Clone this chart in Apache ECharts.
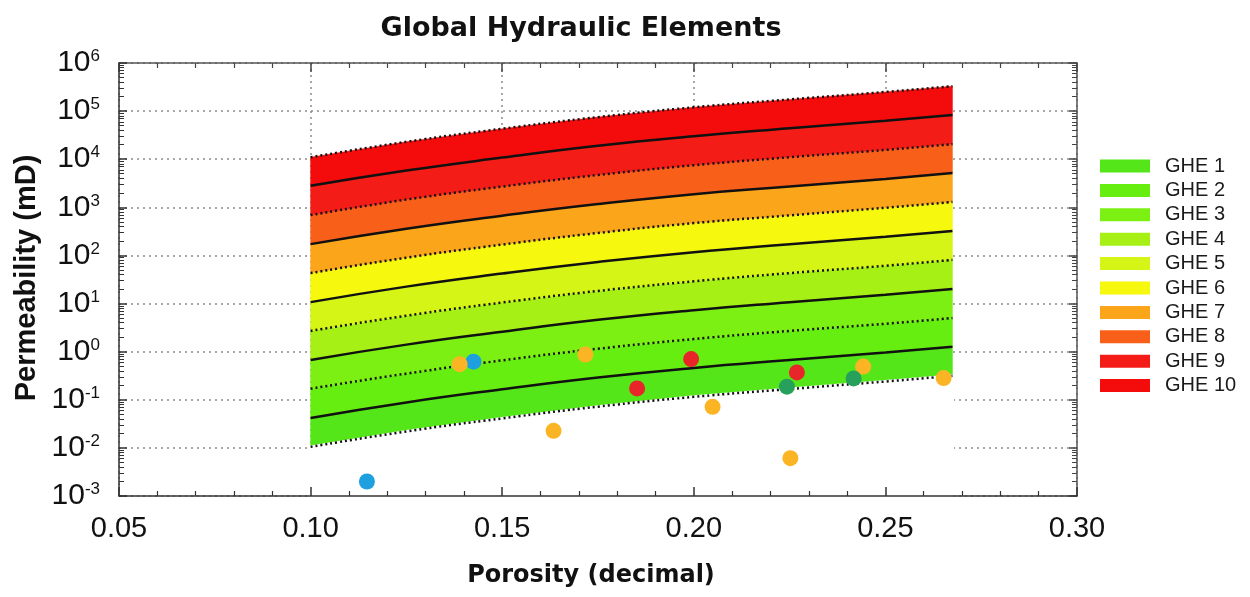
<!DOCTYPE html>
<html>
<head>
<meta charset="utf-8">
<script src="https://cdn.jsdelivr.net/npm/echarts@6/dist/echarts.min.js"></script>
<style>
  html, body { margin: 0; padding: 0; background: #fff; }
  #box1 { width: 1250px; height: 597px; }
</style>
</head>
<body>
<div id="box1"></div>
<script>
/* GHE chart */
var porosity = [0.10, 0.125, 0.15, 0.175, 0.20, 0.225, 0.25, 0.2675];

// boundary curves, bottom (bound0) to top (bound10)
var bound0  = [0.0105, 0.022, 0.041, 0.072, 0.115, 0.167, 0.24, 0.315];
var bound1  = [0.042, 0.088, 0.165, 0.29, 0.46, 0.67, 0.96, 1.26];
var bound2  = [0.17, 0.35, 0.66, 1.15, 1.83, 2.7, 3.8, 5.0];
var bound3  = [0.67, 1.4, 2.6, 4.6, 7.3, 10.7, 15.3, 20];
var bound4  = [2.7, 5.6, 10.5, 18.3, 29, 43, 61, 81];
var bound5  = [10.7, 22.5, 42, 73, 117, 171, 245, 322];
var bound6  = [43, 90, 168, 293, 470, 680, 980, 1290];
var bound7  = [172, 360, 670, 1170, 1880, 2700, 3900, 5200];
var bound8  = [690, 1450, 2700, 4700, 7500, 11000, 15600, 20600];
var bound9  = [2800, 5800, 10800, 19000, 30000, 44000, 63000, 83000];
var bound10 = [11000, 23000, 43000, 75000, 120000, 175000, 250000, 330000];

var gheNames = ['GHE 1', 'GHE 2', 'GHE 3', 'GHE 4', 'GHE 5', 'GHE 6', 'GHE 7', 'GHE 8', 'GHE 9', 'GHE 10'];
var gheColors = ['#55e619', '#66ee11', '#7df013', '#a6f016', '#d4f515', '#f6f80e', '#fba61a', '#f8601a', '#f31c17', '#f40c0c'];

// sample points
var blueX = [0.1147, 0.1425];
var blueY = [0.0020, 0.62];
var orangeX = [0.1389, 0.1717, 0.1634, 0.2049, 0.2252, 0.2442, 0.2652];
var orangeY = [0.55, 0.87, 0.0226, 0.0715, 0.0061, 0.49, 0.283];
var redX = [0.1852, 0.1993, 0.2269];
var redY = [0.172, 0.70, 0.37];
var greenX = [0.2243, 0.2417];
var greenY = [0.187, 0.278];

var xTicks = ['0.05', '0.10', '0.15', '0.20', '0.25', '0.30'];
var yMin = 0.001, yMax = 1000000;

var bounds = [bound0, bound1, bound2, bound3, bound4, bound5, bound6, bound7, bound8, bound9, bound10];

function pairs(xs, ys) {
    return xs.map(function (x, i) { return [x, ys[i]]; });
}

// polygon between two boundary curves
function bandRenderer(lower, upper, color) {
    return function (params, api) {
        var pts = [];
        for (var i = 0; i < porosity.length; i++) pts.push(api.coord([porosity[i], upper[i]]));
        for (var j = porosity.length - 1; j >= 0; j--) pts.push(api.coord([porosity[j], lower[j]]));
        return { type: 'polygon', shape: { points: pts }, style: { fill: color, stroke: color, lineWidth: 0.5 } };
    };
}

var dom = document.getElementById('box1');
var myChart = echarts.init(dom, null, { renderer: 'canvas' });

var series = [];
for (var k = 1; k <= 10; k++) {
    series.push({
        name: gheNames[k - 1],
        type: 'custom',
        silent: true,
        itemStyle: { color: gheColors[k - 1] },
        renderItem: bandRenderer(bounds[k - 1], bounds[k], gheColors[k - 1]),
        data: [[porosity[0], bounds[k][0]]],
        z: 2
    });
}
// white under the lowest band (hides grid there)
var floor = porosity.map(function () { return yMin; });
series.push({
    name: 'floor',
    type: 'custom',
    silent: true,
    renderItem: function (params, api) {
        var el = bandRenderer(floor, bound0, '#fff')(params, api);
        el.style.lineWidth = 3;
        return el;
    },
    data: [[porosity[0], bound0[0]]],
    z: 2
});
// boundary lines: solid for odd, dotted for even
bounds.forEach(function (b, k) {
    series.push({
        name: 'b' + k,
        type: 'line',
        data: pairs(porosity, b),
        smooth: true,
        symbol: 'none',
        silent: true,
        lineStyle: { color: '#111', width: 2.5, type: (k % 2 === 0) ? [2, 3] : 'solid' },
        z: 3
    });
});

var pointSets = [
    { x: blueX, y: blueY, c: '#1e9fe0' },
    { x: orangeX, y: orangeY, c: '#fbb524' },
    { x: redX, y: redY, c: '#e8262a' },
    { x: greenX, y: greenY, c: '#27a05c' }
];
pointSets.forEach(function (p, i) {
    series.push({
        name: 'pts' + i,
        type: 'scatter',
        data: pairs(p.x, p.y),
        symbolSize: 16,
        itemStyle: { color: p.c, opacity: 1 },
        z: 6
    });
});

var labelFont = 'Liberation Sans';
var gridDots = { show: true, lineStyle: { color: '#8a8a8a', width: 1.5, type: [2, 4] } };

option = {
    backgroundColor: '#fff',
    animation: false,
    grid: { left: 119, right: 173, top: 63, bottom: 101 },
    legend: {
        orient: 'vertical',
        left: 1100,
        top: 156,
        padding: 0,
        icon: 'rect',
        itemWidth: 50,
        itemHeight: 13,
        itemGap: 4.4,
        selectedMode: false,
        textStyle: { fontFamily: labelFont, fontSize: 20, color: '#1a1a1a', padding: [0, 0, 0, 10] },
        data: gheNames.map(function (n, i) {
            return { name: n, itemStyle: { color: gheColors[i], borderWidth: 0 } };
        })
    },
    xAxis: [
        {
            type: 'value', min: 0.05, max: 0.30, interval: 0.05,
            position: 'bottom', z: 10,
            axisLine: { lineStyle: { color: '#333', width: 1.5 } },
            axisTick: { inside: true, length: 9, lineStyle: { color: '#333', width: 1.5 } },
            minorTick: { show: true, splitNumber: 5, length: 5, lineStyle: { color: '#333', width: 1.2 } },
            splitLine: { show: false },
            axisLabel: {
                margin: 18, fontFamily: labelFont, fontSize: 29, color: '#111',
                formatter: function (v) { return xTicks[Math.round((v - 0.05) / 0.05)]; }
            }
        },
        {
            type: 'value', min: 0.05, max: 0.30, interval: 0.05,
            position: 'top', z: 0,
            axisLine: { lineStyle: { color: '#555', width: 1.5 } },
            axisTick: { inside: true, length: 9, lineStyle: { color: '#444', width: 1.5 } },
            minorTick: { show: true, splitNumber: 5, length: 5, lineStyle: { color: '#444', width: 1.2 } },
            splitLine: gridDots,
            axisLabel: { show: false }
        }
    ],
    yAxis: [
        {
            type: 'log', logBase: 10, min: yMin, max: yMax,
            position: 'left', z: 10,
            axisLine: { show: true, lineStyle: { color: '#333', width: 1.5 } },
            axisTick: { show: true, inside: true, length: 8, lineStyle: { color: '#333', width: 1.5 } },
            minorTick: { show: true, splitNumber: 9, length: 5, lineStyle: { color: '#333', width: 1 } },
            splitLine: { show: false },
            axisLabel: {
                margin: 19,
                formatter: function (v) {
                    var e = Math.round(Math.log10(v));
                    return '{b|10}{s|' + e + '}';
                },
                rich: {
                    b: { fontFamily: labelFont, fontSize: 30, color: '#111' },
                    s: { fontFamily: labelFont, fontSize: 17, color: '#111', verticalAlign: 'top', padding: [0, 0, 13, 0] }
                }
            }
        },
        {
            type: 'log', logBase: 10, min: yMin, max: yMax,
            position: 'right', z: 0,
            axisLine: { show: true, lineStyle: { color: '#555', width: 1.5 } },
            axisTick: { show: true, inside: true, length: 8, lineStyle: { color: '#444', width: 1.5 } },
            minorTick: { show: true, splitNumber: 9, length: 5, lineStyle: { color: '#444', width: 1 } },
            splitLine: gridDots,
            axisLabel: { show: false }
        }
    ],
    graphic: [
        {
            type: 'text', x: 581, y: 29,
            style: {
                text: 'Global Hydraulic Elements', fill: '#111',
                font: 'bold 27px "DejaVu Sans"', textAlign: 'center', textVerticalAlign: 'middle'
            }
        },
        {
            type: 'text', x: 591, y: 576,
            style: {
                text: 'Porosity (decimal)', fill: '#111',
                font: 'bold 24px "DejaVu Sans"', textAlign: 'center', textVerticalAlign: 'middle'
            }
        },
        {
            type: 'text', x: 27, y: 278, rotation: Math.PI / 2,
            style: {
                text: 'Permeability (mD)', fill: '#111',
                font: 'bold 29px "Liberation Sans"', textAlign: 'center', textVerticalAlign: 'middle'
            }
        }
    ],
    series: series
};

if (option && typeof option === "object") {
    myChart.setOption(option, true);
}
</script>
</body>
</html>
